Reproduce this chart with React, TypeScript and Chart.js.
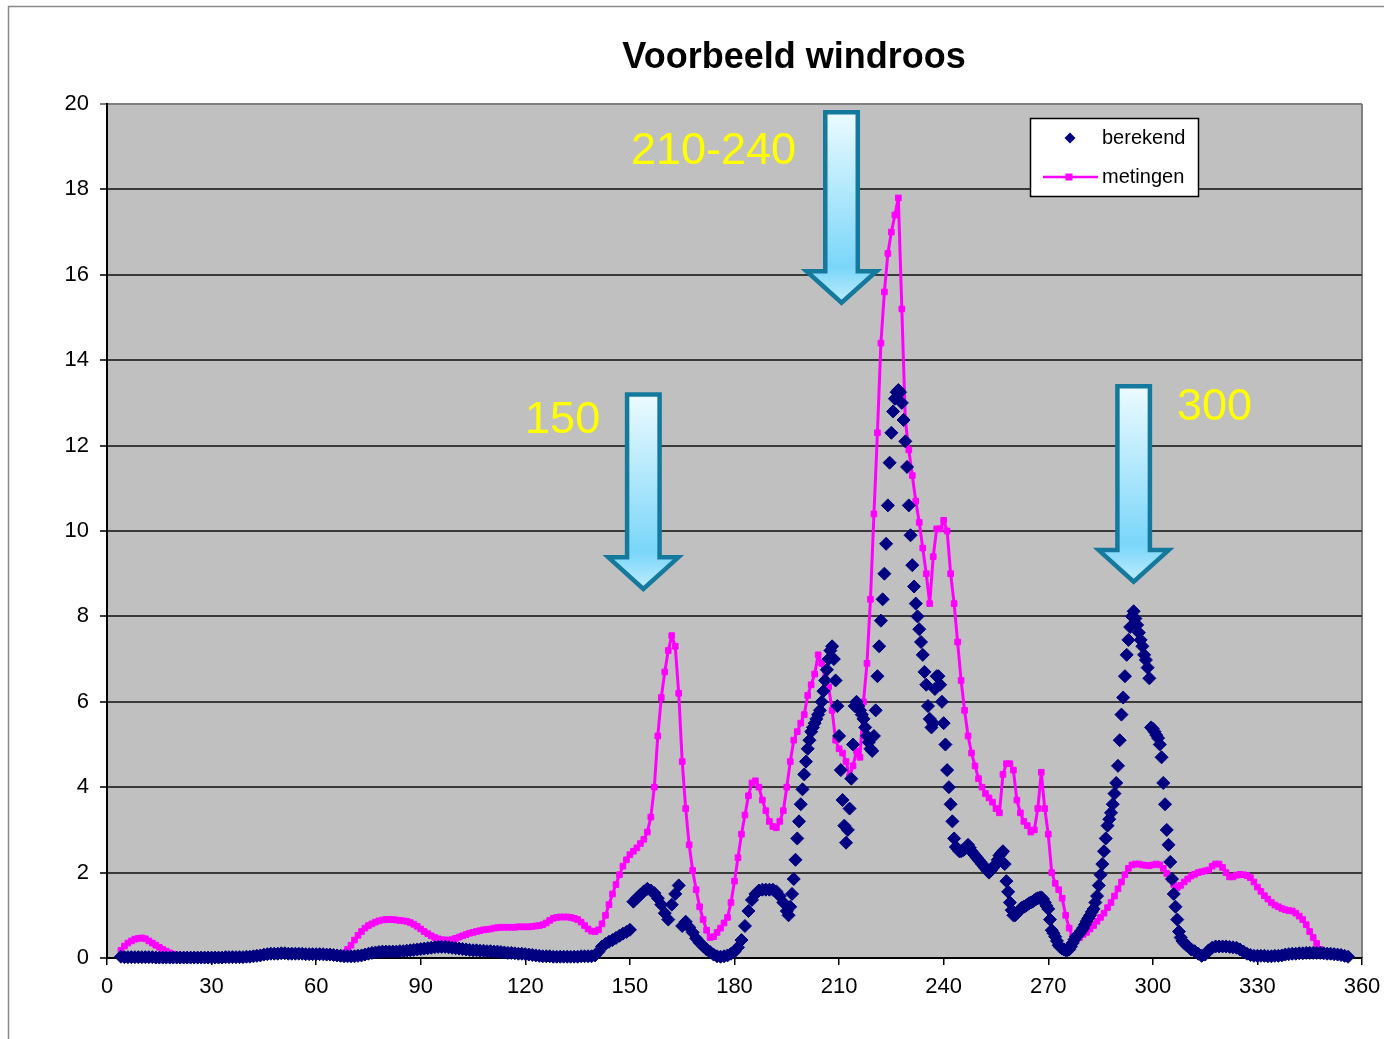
import React, { useEffect, useRef } from "react";
import { Chart, registerables } from "chart.js";

Chart.register(...registerables);

const TITLE = "Voorbeeld windroos";
const SERIES_NAMES = ["berekend", "metingen"];
const X_TICKS = [0, 30, 60, 90, 120, 150, 180, 210, 240, 270, 300, 330, 360];
const Y_TICKS = [0, 2, 4, 6, 8, 10, 12, 14, 16, 18, 20];

// berekend, 4..195 degrees, one value per degree
const BEREKEND_WEST_START = 4;
const berekendWest = [
  // 4-9
  0.03, 0.02, 0.02, 0.02, 0.02, 0.02,
  // 10-19
  0.02, 0.02, 0.02, 0.02, 0.01, 0.01, 0.01, 0.01, 0.01, 0.01,
  // 20-29
  0.01, 0.01, 0.01, 0.01, 0.01, 0.01, 0.01, 0.01, 0.01, 0.01,
  // 30-39
  0.01, 0.01, 0.01, 0.01, 0.02, 0.02, 0.02, 0.02, 0.02, 0.02,
  // 40-49
  0.03, 0.03, 0.04, 0.05, 0.06, 0.08, 0.09, 0.1, 0.1, 0.1,
  // 50-59
  0.11, 0.11, 0.1, 0.1, 0.1, 0.1, 0.1, 0.09, 0.09, 0.09,
  // 60-69
  0.09, 0.09, 0.09, 0.08, 0.08, 0.07, 0.06, 0.05, 0.04, 0.04,
  // 70-79
  0.04, 0.04, 0.05, 0.06, 0.08, 0.1, 0.12, 0.13, 0.14, 0.15,
  // 80-89
  0.15, 0.15, 0.15, 0.15, 0.16, 0.16, 0.17, 0.18, 0.19, 0.2,
  // 90-99
  0.21, 0.22, 0.23, 0.24, 0.25, 0.26, 0.26, 0.26, 0.25, 0.24,
  // 100-109
  0.23, 0.22, 0.21, 0.2, 0.19, 0.18, 0.18, 0.17, 0.17, 0.16,
  // 110-119
  0.16, 0.15, 0.15, 0.14, 0.13, 0.12, 0.12, 0.11, 0.1, 0.1,
  // 120-129
  0.09, 0.08, 0.07, 0.06, 0.05, 0.04, 0.04, 0.04, 0.03, 0.03,
  // 130-139
  0.03, 0.03, 0.03, 0.03, 0.03, 0.03, 0.04, 0.04, 0.04, 0.04,
  // 140-149
  0.06, 0.15, 0.27, 0.33, 0.38, 0.42, 0.47, 0.52, 0.57, 0.61,
  // 150-159
  0.66, 1.32, 1.4, 1.48, 1.56, 1.62, 1.58, 1.52, 1.4, 1.25,
  // 160-169
  1.05, 0.9, 1.25, 1.5, 1.7, 0.75, 0.85, 0.72, 0.6, 0.46,
  // 170-179
  0.36, 0.28, 0.2, 0.14, 0.08, 0.04, 0.03, 0.04, 0.06, 0.1,
  // 180-189
  0.15, 0.25, 0.42, 0.75, 1.1, 1.36, 1.5, 1.58, 1.6, 1.6,
  // 190-195
  1.6, 1.6, 1.56, 1.45, 1.3, 1.1,
];

// berekend, 195.5..310 degrees, one value per half degree (steep peaks)
const BEREKEND_PEAKS_START = 195.5;
const BEREKEND_PEAKS_STEP = 0.5;
const berekendPeaks = [
  // 195.5-200
  1.0, 1.2, 1.5, 1.85, 2.3, 2.8, 3.2, 3.6, 3.95, 4.3,
  // 200.5-205
  4.6, 4.9, 5.1, 5.3, 5.4, 5.5, 5.6, 5.7, 5.8, 6.0,
  // 205.5-210
  6.25, 6.5, 6.75, 7.0, 7.2, 7.3, 7.0, 6.5, 5.9, 5.2,
  // 210.5-215
  4.4, 3.7, 3.1, 2.7, 3.0, 3.5, 4.2, 5.0, 5.9, 6.0,
  // 215.5-220
  5.9, 5.8, 5.7, 5.6, 5.4, 5.2, 5.05, 4.9, 4.85, 5.2,
  // 220.5-225
  5.8, 6.6, 7.3, 7.9, 8.4, 9.0, 9.7, 10.6, 11.6, 12.3,
  // 225.5-230
  12.8, 13.1, 13.25, 13.3, 13.25, 13.0, 12.6, 12.1, 11.5, 10.6,
  // 230.5-235
  9.9, 9.2, 8.7, 8.3, 8.0, 7.7, 7.4, 7.1, 6.7, 6.4,
  // 235.5-240
  5.9, 5.6, 5.4, 5.5, 6.3, 6.6, 6.6, 6.4, 6.0, 5.5,
  // 240.5-245
  5.0, 4.4, 4.0, 3.6, 3.2, 2.8, 2.6, 2.55, 2.5, 2.5,
  // 245.5-250
  2.52, 2.55, 2.6, 2.65, 2.58, 2.5, 2.45, 2.4, 2.35, 2.3,
  // 250.5-255
  2.25, 2.2, 2.15, 2.1, 2.05, 2.0, 2.05, 2.1, 2.15, 2.2,
  // 255.5-260
  2.3, 2.4, 2.45, 2.5, 2.2, 1.8, 1.55, 1.3, 1.12, 1.0,
  // 260.5-265
  1.0, 1.05, 1.1, 1.15, 1.18, 1.2, 1.22, 1.25, 1.28, 1.3,
  // 265.5-270
  1.32, 1.35, 1.38, 1.4, 1.41, 1.42, 1.38, 1.3, 1.22, 1.15,
  // 270.5-275
  0.9, 0.65, 0.58, 0.5, 0.4, 0.3, 0.25, 0.22, 0.2, 0.18,
  // 275.5-280
  0.18, 0.2, 0.27, 0.35, 0.43, 0.5, 0.54, 0.58, 0.64, 0.7,
  // 280.5-285
  0.78, 0.86, 0.93, 1.0, 1.08, 1.15, 1.3, 1.45, 1.7, 1.95,
  // 285.5-290
  2.2, 2.5, 2.8, 3.1, 3.25, 3.4, 3.6, 3.85, 4.1, 4.5,
  // 290.5-295
  5.1, 5.7, 6.1, 6.6, 7.1, 7.45, 7.75, 8.0, 8.12, 7.95,
  // 295.5-300
  7.8, 7.62, 7.45, 7.3, 7.1, 6.98, 6.8, 6.55, 5.4, 5.37,
  // 300.5-305
  5.3, 5.22, 5.15, 5.0, 4.7, 4.1, 3.6, 3.0, 2.65, 2.25,
  // 305.5-310
  1.85, 1.5, 1.2, 0.9, 0.62, 0.48, 0.4, 0.35, 0.31, 0.28,
];

// berekend, 311..356 degrees, one value per degree
const BEREKEND_EAST_START = 311;
const berekendEast = [
  // 311-319
  0.2, 0.16, 0.1, 0.05, 0.08, 0.18, 0.24, 0.27, 0.27,
  // 320-329
  0.27, 0.27, 0.26, 0.25, 0.24, 0.2, 0.15, 0.1, 0.07, 0.05,
  // 330-339
  0.05, 0.05, 0.05, 0.04, 0.04, 0.05, 0.05, 0.06, 0.08, 0.09,
  // 340-349
  0.1, 0.1, 0.11, 0.11, 0.12, 0.12, 0.12, 0.12, 0.12, 0.11,
  // 350-356
  0.1, 0.1, 0.09, 0.08, 0.07, 0.05, 0.03,
];

// metingen: one value per degree, starting at 4 degrees
const METINGEN_START = 4;
const metingen = [
  // 4-9
  0.18, 0.28, 0.35, 0.4, 0.44, 0.46,
  // 10-19
  0.47, 0.45, 0.4, 0.35, 0.3, 0.25, 0.2, 0.16, 0.12, 0.09,
  // 20-29
  0.07, 0.05, 0.04, 0.04, 0.04, 0.04, 0.04, 0.04, 0.04, 0.04,
  // 30-39
  0.04, 0.04, 0.04, 0.04, 0.04, 0.04, 0.04, 0.04, 0.04, 0.04,
  // 40-49
  0.04, 0.04, 0.05, 0.05, 0.06, 0.07, 0.08, 0.08, 0.08, 0.08,
  // 50-59
  0.08, 0.08, 0.08, 0.08, 0.08, 0.08, 0.08, 0.08, 0.08, 0.08,
  // 60-69
  0.08, 0.08, 0.07, 0.07, 0.06, 0.06, 0.06, 0.08, 0.12, 0.2,
  // 70-79
  0.3, 0.42, 0.53, 0.62, 0.7, 0.76, 0.8, 0.84, 0.87, 0.89,
  // 80-89
  0.9, 0.9, 0.9, 0.89, 0.88, 0.87, 0.86, 0.83, 0.79, 0.74,
  // 90-99
  0.68, 0.62, 0.57, 0.52, 0.48, 0.45, 0.43, 0.42, 0.42, 0.43,
  // 100-109
  0.46, 0.49, 0.52, 0.55, 0.58, 0.6, 0.62, 0.64, 0.66, 0.67,
  // 110-119
  0.68, 0.7, 0.71, 0.72, 0.72, 0.72, 0.72, 0.72, 0.73, 0.73,
  // 120-129
  0.73, 0.73, 0.74, 0.75, 0.76, 0.78, 0.82, 0.88, 0.93, 0.95,
  // 130-139
  0.96, 0.96, 0.96, 0.95, 0.93, 0.9, 0.84, 0.76, 0.68, 0.63,
  // 140-149
  0.62, 0.66, 0.8, 1.0, 1.25, 1.5, 1.72, 1.95, 2.15, 2.3,
  // 150-159
  2.42, 2.5, 2.58, 2.68, 2.78, 2.95, 3.3, 4.0, 5.2, 6.1,
  // 160-169
  6.7, 7.2, 7.55, 7.3, 6.2, 4.6, 3.5, 2.65, 2.05, 1.6,
  // 170-179
  1.2, 0.9, 0.65, 0.48, 0.5, 0.6, 0.7, 0.82, 0.95, 1.3,
  // 180-189
  1.8, 2.35, 2.9, 3.35, 3.8, 4.1, 4.15, 4.0, 3.7, 3.45,
  // 190-199
  3.2, 3.08, 3.05, 3.2, 3.45, 4.0, 4.6, 5.1, 5.3, 5.5,
  // 200-209
  5.7, 6.15, 6.4, 6.65, 7.1, 6.9, 6.55, 6.35, 5.8, 5.1,
  // 210-219
  4.9, 4.8, 4.6, 4.25, 4.5, 4.85, 4.7, 6.0, 6.9, 8.4,
  // 220-229
  10.4, 12.3, 14.4, 15.6, 16.5, 17.0, 17.4, 17.8, 15.2, 12.6,
  // 230-239
  11.9, 11.3, 10.7, 10.2, 9.6, 9.0, 8.3, 9.4, 10.05, 10.05,
  // 240-249
  10.25, 10.0, 9.0, 8.3, 7.4, 6.5, 5.8, 5.2, 4.8, 4.5,
  // 250-259
  4.2, 4.0, 3.85, 3.75, 3.65, 3.5, 3.4, 4.3, 4.55, 4.55,
  // 260-269
  4.4, 3.7, 3.4, 3.2, 3.1, 2.95, 3.0, 3.5, 4.35, 3.5,
  // 270-279
  2.9, 2.0, 1.75, 1.6, 1.4, 1.0, 0.7, 0.5, 0.42, 0.48,
  // 280-289
  0.55, 0.6, 0.68, 0.76, 0.86, 0.95, 1.05, 1.18, 1.3, 1.45,
  // 290-299
  1.62, 1.78, 1.95, 2.1, 2.18, 2.2, 2.2, 2.18, 2.17, 2.16,
  // 300-309
  2.18, 2.2, 2.18, 2.1, 1.98, 1.85, 1.72, 1.65, 1.7, 1.78,
  // 310-319
  1.85, 1.92, 1.96, 2.0, 2.02, 2.04, 2.06, 2.15, 2.2, 2.2,
  // 320-329
  2.12, 2.0, 1.9, 1.9, 1.94, 1.96, 1.95, 1.93, 1.88, 1.78,
  // 330-339
  1.66, 1.56, 1.46, 1.38, 1.3, 1.24, 1.2, 1.16, 1.13, 1.11,
  // 340-349
  1.1, 1.05, 0.98, 0.9, 0.78, 0.62, 0.48, 0.34, 0.2, 0.1,
  // 350
  0.05,
];

// annotation arrows (angle of centre, value at top, value at tip) and labels
const ARROWS = [
  { angle: 153.85, top: 13.25, tip: 8.57 },
  { angle: 210.7, top: 19.86, tip: 15.27 },
  { angle: 294.5, top: 13.44, tip: 8.74 },
];
const ARROW_LABELS = [
  { text: "150", angle: 130.7, value: 12.58 },
  { text: "210-240", angle: 173.98, value: 18.88 },
  { text: "300", angle: 317.7, value: 12.89 },
];

const FONT = "'Liberation Sans', Arial, Helvetica, sans-serif";

function toPoints(start: number, step: number, values: number[]) {
  return values.map((v, i) => ({ x: start + i * step, y: v }));
}

function drawArrow(ctx: CanvasRenderingContext2D, cx: number, yTopOuter: number, yTipOuter: number) {
  const lw = 4.5;
  const shaftHalf = 16.25;
  const headHalf = 35;
  const yTop = yTopOuter + lw / 2;
  const yTip = yTipOuter - 3.2;
  const yHead = yTipOuter - 37 + lw / 2;
  const grad = ctx.createLinearGradient(0, yTopOuter, 0, yTipOuter);
  grad.addColorStop(0, "#eefbff");
  grad.addColorStop(0.8, "#7ad6f9");
  grad.addColorStop(1, "#c4eefd");
  ctx.beginPath();
  ctx.moveTo(cx - shaftHalf, yTop);
  ctx.lineTo(cx + shaftHalf, yTop);
  ctx.lineTo(cx + shaftHalf, yHead);
  ctx.lineTo(cx + headHalf, yHead);
  ctx.lineTo(cx, yTip);
  ctx.lineTo(cx - headHalf, yHead);
  ctx.lineTo(cx - shaftHalf, yHead);
  ctx.closePath();
  ctx.fillStyle = grad;
  ctx.fill();
  ctx.lineWidth = lw;
  ctx.lineJoin = "miter";
  ctx.miterLimit = 10;
  ctx.strokeStyle = "#15789d";
  ctx.stroke();
}

const decorPlugin = {
  id: "decor",
  beforeDraw(chart: any) {
    const { ctx, chartArea, width, height } = chart;
    ctx.save();
    ctx.fillStyle = "#ffffff";
    ctx.fillRect(0, 0, width, height);
    ctx.fillStyle = "#c0c0c0";
    ctx.fillRect(chartArea.left, chartArea.top, chartArea.right - chartArea.left, chartArea.bottom - chartArea.top);
    // outer frame
    ctx.strokeStyle = "#8a8a8a";
    ctx.lineWidth = 1.5;
    ctx.beginPath();
    ctx.moveTo(8.5, height);
    ctx.lineTo(8.5, 6.5);
    ctx.lineTo(width, 6.5);
    ctx.stroke();
    // right border of plot
    ctx.strokeStyle = "#808080";
    ctx.lineWidth = 2;
    ctx.beginPath();
    ctx.moveTo(chartArea.right, chartArea.top);
    ctx.lineTo(chartArea.right, chartArea.bottom);
    ctx.stroke();
    ctx.restore();
  },
  afterDraw(chart: any) {
    const { ctx } = chart;
    const xs = chart.scales.x;
    const ys = chart.scales.y;
    ctx.save();
    // title
    ctx.fillStyle = "#000";
    ctx.font = `bold 36px ${FONT}`;
    ctx.textAlign = "center";
    ctx.textBaseline = "alphabetic";
    ctx.fillText(TITLE, 794, 68);

    // arrows
    ARROWS.forEach((a) => {
      drawArrow(ctx, xs.getPixelForValue(a.angle), ys.getPixelForValue(a.top), ys.getPixelForValue(a.tip));
    });
    // labels
    ctx.fillStyle = "#ffff00";
    ctx.font = `45px ${FONT}`;
    ctx.textAlign = "center";
    ctx.textBaseline = "middle";
    ARROW_LABELS.forEach((l) => {
      ctx.fillText(l.text, xs.getPixelForValue(l.angle), ys.getPixelForValue(l.value));
    });

    // legend
    ctx.fillStyle = "#ffffff";
    ctx.fillRect(1030, 118, 169, 79);
    ctx.strokeStyle = "#000";
    ctx.lineWidth = 1.5;
    ctx.strokeRect(1030.5, 118.5, 168, 78);
    ctx.fillStyle = "#000080";
    ctx.beginPath();
    ctx.moveTo(1070, 132.5);
    ctx.lineTo(1075.5, 138);
    ctx.lineTo(1070, 143.5);
    ctx.lineTo(1064.5, 138);
    ctx.closePath();
    ctx.fill();
    ctx.strokeStyle = "#ff00ff";
    ctx.lineWidth = 2.5;
    ctx.beginPath();
    ctx.moveTo(1043, 177);
    ctx.lineTo(1098, 177);
    ctx.stroke();
    ctx.fillStyle = "#ff00ff";
    ctx.fillRect(1065.5, 173.5, 7, 7);
    ctx.fillStyle = "#000";
    ctx.font = `20px ${FONT}`;
    ctx.textAlign = "left";
    ctx.textBaseline = "middle";
    ctx.fillText(SERIES_NAMES[0], 1102, 138);
    ctx.fillText(SERIES_NAMES[1], 1102, 177);
    ctx.restore();
  },
};

export default function App() {
  const ref = useRef<HTMLCanvasElement | null>(null);
  useEffect(() => {
    if (!ref.current) return;
    Chart.defaults.font.family = FONT;
    const berekendPoints = [
      ...toPoints(BEREKEND_WEST_START, 1, berekendWest),
      ...toPoints(BEREKEND_PEAKS_START, BEREKEND_PEAKS_STEP, berekendPeaks),
      ...toPoints(BEREKEND_EAST_START, 1, berekendEast),
    ];
    const chart = new Chart(ref.current, {
      type: "line",
      data: {
        datasets: [
          {
            label: SERIES_NAMES[0],
            data: berekendPoints,
            showLine: false,
            pointStyle: "rectRot",
            pointRadius: 6.5,
            pointBackgroundColor: "#000080",
            pointBorderColor: "#000080",
            pointBorderWidth: 1,
            borderColor: "#000080",
            backgroundColor: "#000080",
            clip: false,
            order: 0,
          },
          {
            label: SERIES_NAMES[1],
            data: toPoints(METINGEN_START, 1, metingen),
            borderColor: "#ff00ff",
            backgroundColor: "#ff00ff",
            borderWidth: 3,
            borderJoinStyle: "round",
            pointStyle: "rect",
            pointRadius: 4,
            pointBackgroundColor: "#ff00ff",
            pointBorderColor: "#ff00ff",
            pointBorderWidth: 1,
            tension: 0,
            clip: false,
            order: 1,
          },
        ],
      },
      options: {
        responsive: false,
        devicePixelRatio: 1,
        animation: false,
        events: [],
        layout: { padding: { top: 104, right: 22, left: 0, bottom: 0 } },
        plugins: {
          legend: { display: false },
          title: { display: false },
          tooltip: { enabled: false },
        },
        scales: {
          x: {
            type: "linear",
            min: 0,
            max: 360,
            afterBuildTicks: (s: any) => {
              s.ticks = X_TICKS.map((v) => ({ value: v }));
            },
            afterFit: (s: any) => {
              s.height = 81;
              s.paddingLeft = 0;
              s.paddingRight = 0;
            },
            ticks: {
              autoSkip: false,
              maxRotation: 0,
              color: "#000",
              font: { size: 22 },
              padding: 9,
            },
            grid: {
              drawOnChartArea: false,
              drawTicks: true,
              tickLength: 7,
              color: "#000",
              lineWidth: 1.5,
            },
            border: { display: true, color: "#000", width: 2 },
          },
          y: {
            type: "linear",
            min: 0,
            max: 20,
            afterBuildTicks: (s: any) => {
              s.ticks = Y_TICKS.map((v) => ({ value: v }));
            },
            afterFit: (s: any) => {
              s.width = 107;
              s.paddingTop = 0;
              s.paddingBottom = 0;
            },
            ticks: {
              color: "#000",
              font: { size: 22 },
              padding: 11,
            },
            grid: {
              color: (c: any) => (c.tick && c.tick.value === 20 ? "#808080" : "#3a3a3a"),
              lineWidth: 2,
              tickLength: 7,
              drawTicks: true,
            },
            border: { display: true, color: "#000", width: 2 },
          },
        },
      },
      plugins: [decorPlugin],
    } as any);
    return () => chart.destroy();
  }, []);
  return (
    <div style={{ position: "absolute", left: 0, top: 0, width: 1384, height: 1039, background: "#fff" }}>
      <canvas ref={ref} width={1384} height={1039} style={{ display: "block" }} />
    </div>
  );
}
